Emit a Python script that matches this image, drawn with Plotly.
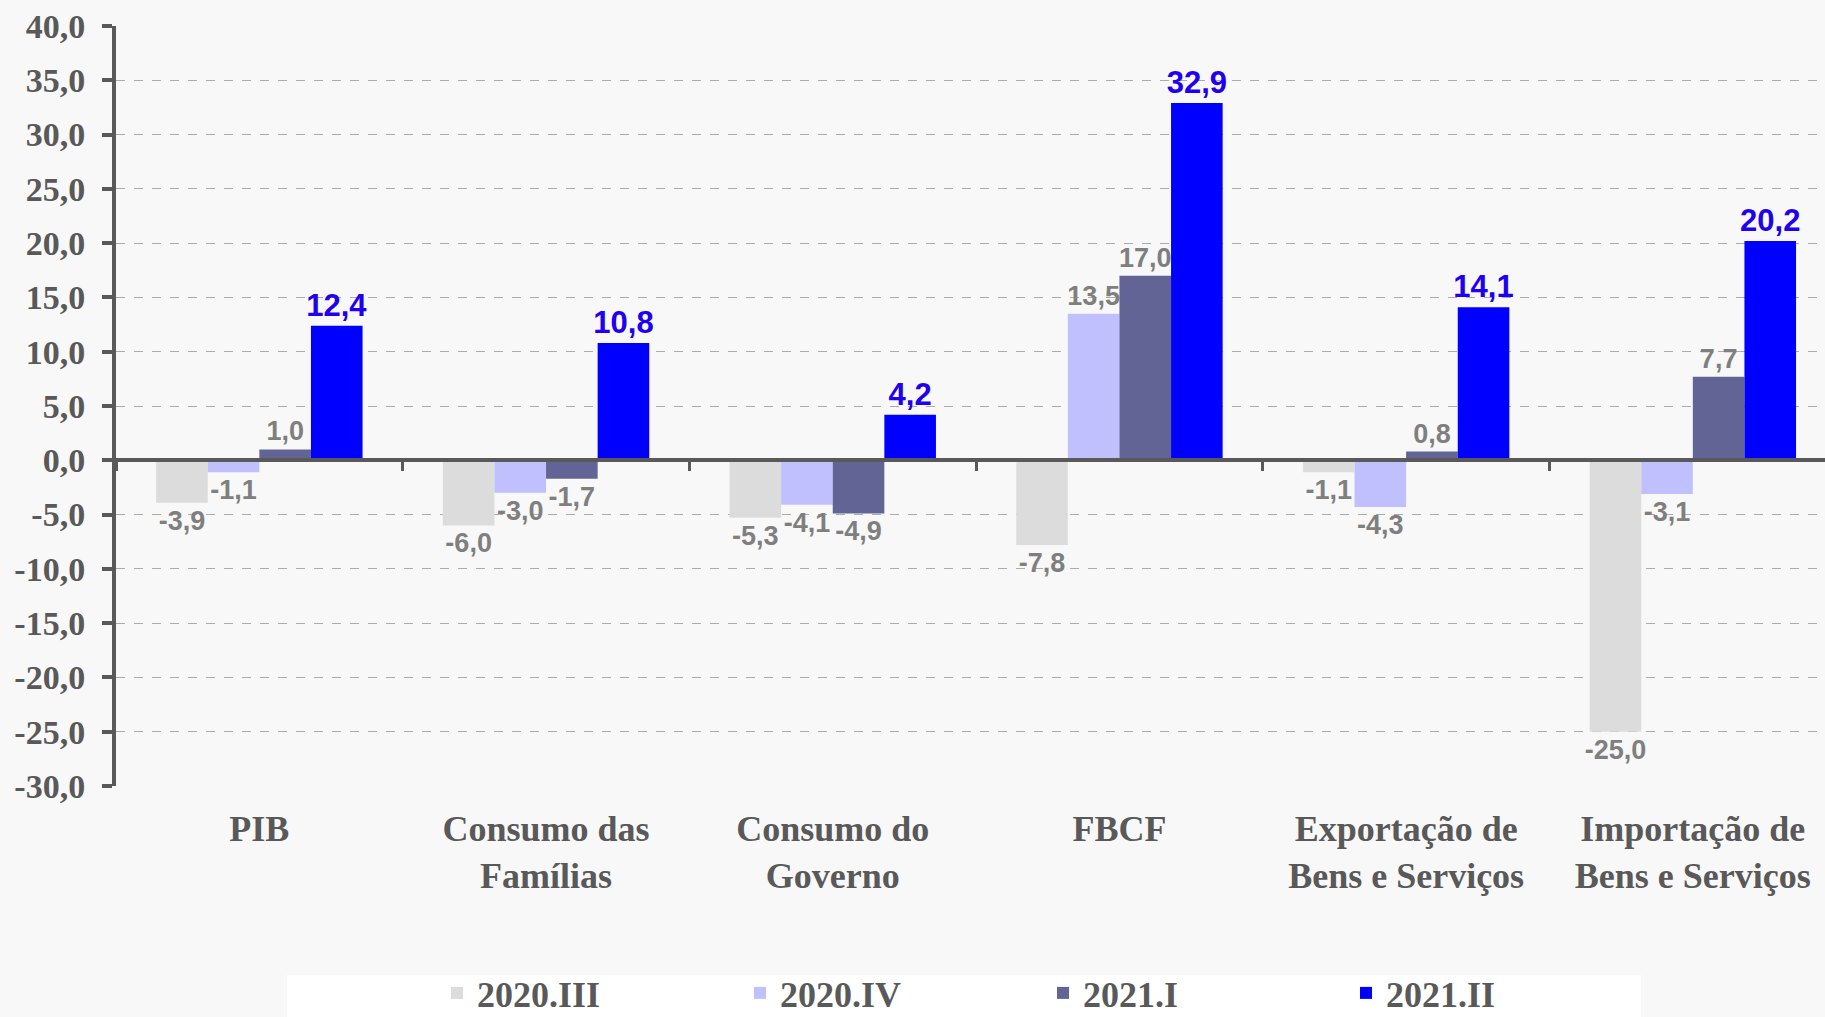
import plotly.graph_objects as go

categories = ["PIB", "Consumo das<br>Famílias", "Consumo do<br>Governo", "FBCF",
              "Exportação de<br>Bens e Serviços", "Importação de<br>Bens e Serviços"]
series_names = ["2020.III", "2020.IV", "2021.I", "2021.II"]
v_2020_III = [-3.9, -6.0, -5.3, -7.8, -1.1, -25.0]
v_2020_IV = [-1.1, -3.0, -4.1, 13.5, -4.3, -3.1]
v_2021_I = [1.0, -1.7, -4.9, 17.0, 0.8, 7.7]
v_2021_II = [12.4, 10.8, 4.2, 32.9, 14.1, 20.2]
series_values = [v_2020_III, v_2020_IV, v_2021_I, v_2021_II]
y_tick_vals = [40, 35, 30, 25, 20, 15, 10, 5, 0, -5, -10, -15, -20, -25, -30]
y_tick_text = ["40,0", "35,0", "30,0", "25,0", "20,0", "15,0", "10,0", "5,0", "0,0",
               "-5,0", "-10,0", "-15,0", "-20,0", "-25,0", "-30,0"]

colors = ["#DCDCDC", "#C0C0FF", "#626496", "#0000FF"]
label_colors = ["#7F7F7F", "#7F7F7F", "#7F7F7F", "#2000F0"]
label_sizes = [27, 27, 27, 31]
AX = "#595959"
BG = "#F8F8F8"

YMIN, YMAX = -30, 40

fig = go.Figure()
for name, vals, c, lc, ls in zip(series_names, series_values, colors, label_colors, label_sizes):
    fig.add_trace(go.Bar(
        x=categories, y=vals, name=name,
        marker=dict(color=c, line=dict(width=0)),
        text=[f"{v:.1f}".replace(".", ",") for v in vals],
        textposition="outside", constraintext="none", cliponaxis=False,
        textfont=dict(family="Liberation Sans", size=ls, color=lc, weight="bold"),
    ))

# figure is slightly taller than the 1017px viewport (as in the original, the legend box runs off the bottom)
W, H = 1825, 1050
PLOT_BOTTOM = 786
ML, MR, MT = 116, 0, 26
MB = H - PLOT_BOTTOM
plot_w = W - ML - MR
plot_h = PLOT_BOTTOM - MT

fig.update_layout(
    width=W, height=H,
    margin=dict(l=ML, r=MR, t=MT, b=MB, pad=0, autoexpand=False),
    paper_bgcolor=BG, plot_bgcolor=BG,
    barmode="group", bargap=0.28, bargroupgap=0,
    showlegend=True,
    legend=dict(orientation="h", x=(437 - ML) / plot_w, xanchor="left",
                y=(PLOT_BOTTOM - 993) / plot_h, yanchor="middle",
                bgcolor="rgba(0,0,0,0)", entrywidth=258, entrywidthmode="pixels",
                font=dict(family="Liberation Serif", size=36, color=AX, weight="bold"),
                itemsizing="constant"),
    xaxis=dict(
        type="category", range=[-0.5, 5.461],
        anchor="free", position=(0 - YMIN) / (YMAX - YMIN),
        showline=True, linecolor=AX, linewidth=4,
        ticks="outside", tickson="boundaries", ticklen=9, tickwidth=3, tickcolor=AX,
        showgrid=False, ticklabelstandoff=336,
        tickfont=dict(family="Liberation Serif", size=36, color=AX, weight="bold"),
    ),
    yaxis=dict(
        range=[YMIN, YMAX], tickvals=y_tick_vals, ticktext=y_tick_text,
        showline=True, linecolor=AX, linewidth=4,
        ticks="outside", ticklen=10, tickwidth=4, tickcolor=AX,
        showgrid=True, gridcolor="#ABABAB", gridwidth=1, griddash="dash",
        zeroline=False, ticklabelstandoff=10,
        tickfont=dict(family="Liberation Serif", size=34, color=AX, weight="bold"),
    ),
    shapes=[dict(type="rect", xref="paper", yref="paper", layer="below",
                 x0=(287 - ML) / plot_w, x1=(1641 - ML) / plot_w,
                 y0=(PLOT_BOTTOM - H) / plot_h, y1=(PLOT_BOTTOM - 975) / plot_h,
                 fillcolor="#FFFFFF", line=dict(width=0))],
)

fig.write_html("out.html", config={"displayModeBar": False},
               post_script="document.body.style.margin='0';document.body.style.overflow='hidden';"
                           "document.body.style.background='#F8F8F8';")
